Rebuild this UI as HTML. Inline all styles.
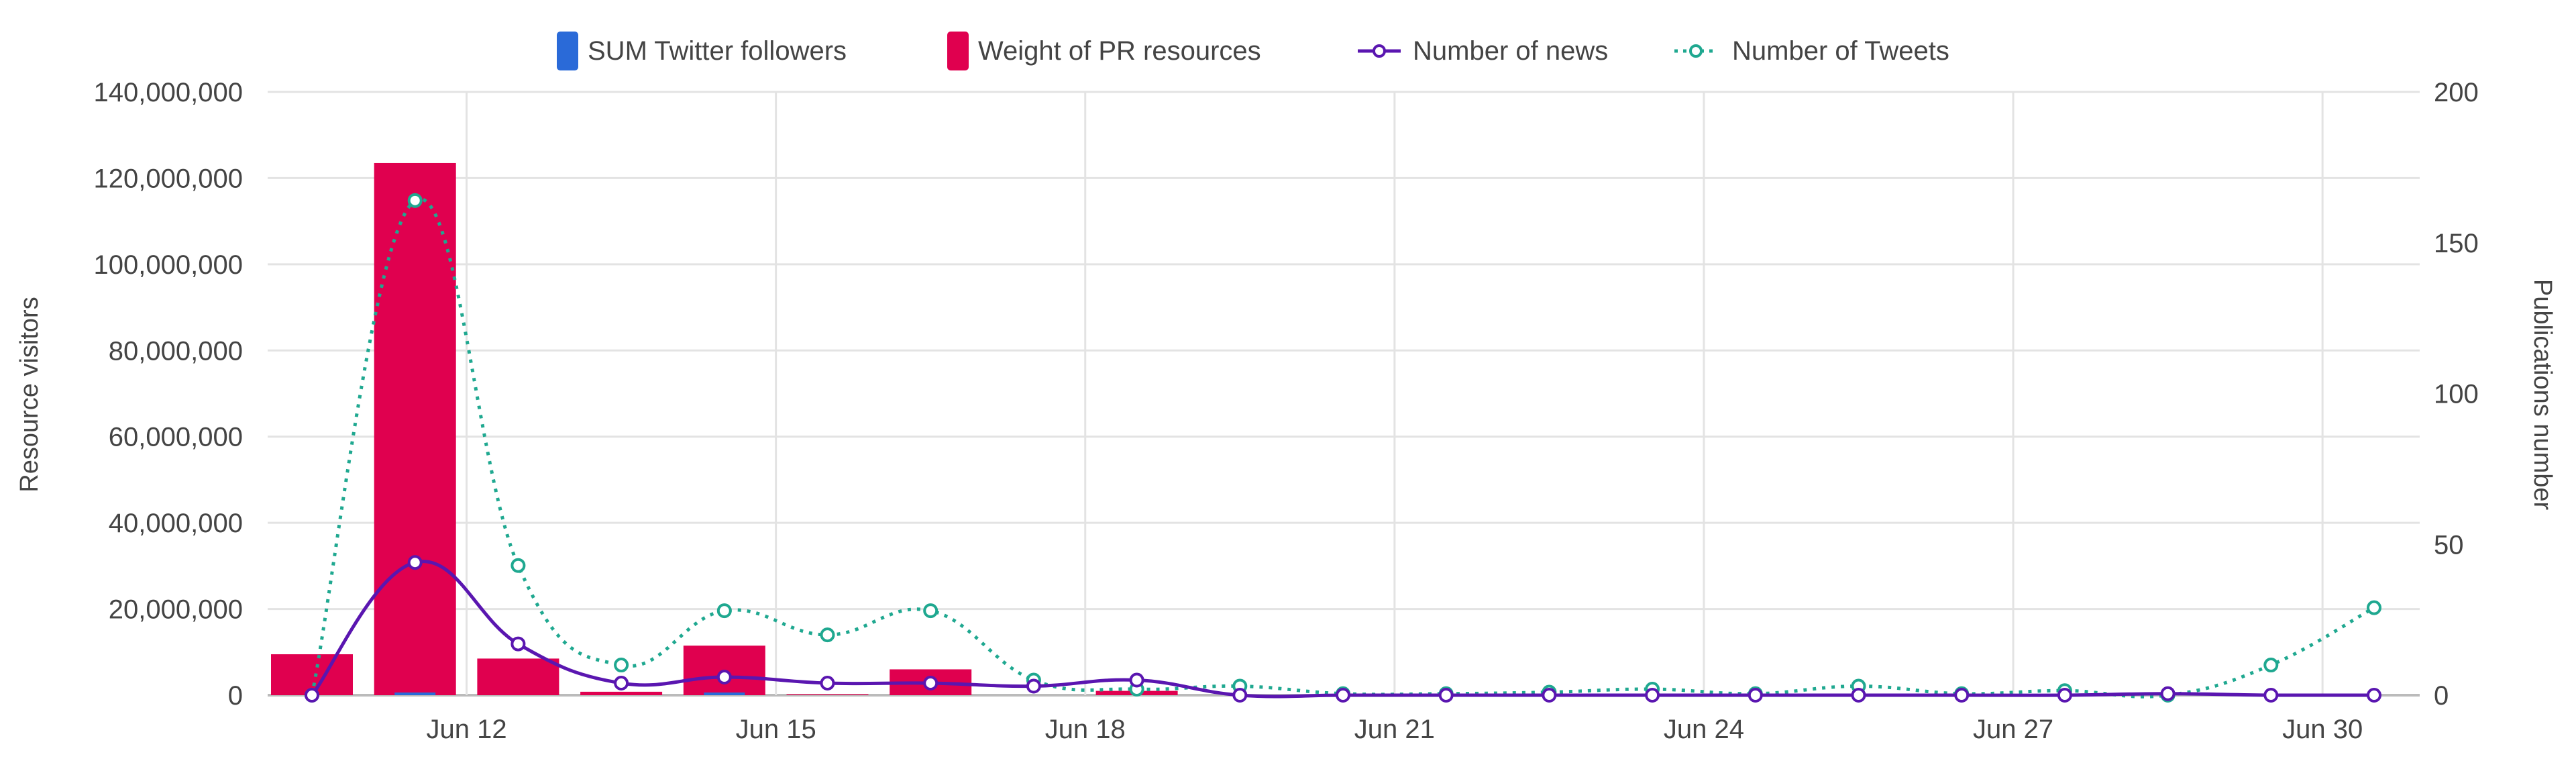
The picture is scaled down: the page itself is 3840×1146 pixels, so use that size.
<!DOCTYPE html>
<html><head><meta charset="utf-8"><style>
html,body{margin:0;padding:0;background:#fff;}
svg{display:block;font-family:"Liberation Sans",sans-serif;}
</style></head><body>
<svg id="chart" width="3840" height="1146" viewBox="0 0 3840 1146" xmlns="http://www.w3.org/2000/svg">
<g id="grid"></g>
<g id="bars"></g>
<g id="lines"></g>
<g id="axes"></g>
<text x="0" y="0" transform="translate(56,588) rotate(-90)" text-anchor="middle" font-size="38" fill="#444">Resource visitors</text>
<text x="0" y="0" transform="translate(3778,588) rotate(90)" text-anchor="middle" font-size="38" fill="#444">Publications number</text>
<g font-size="40" fill="#444">
  <g>
    <rect x="830" y="47" width="32" height="58" rx="5" fill="#2a6ad8"/>
    <text x="876" y="89">SUM Twitter followers</text>
  </g>
  <g>
    <rect x="1412" y="47" width="32" height="58" rx="5" fill="#e0004f"/>
    <text x="1458" y="89">Weight of PR resources</text>
  </g>
  <g>
    <line x1="2024" y1="76" x2="2088" y2="76" stroke="#5a16b0" stroke-width="5"/>
    <circle cx="2056" cy="76" r="8" fill="#fff" stroke="#5a16b0" stroke-width="4"/>
    <text x="2106" y="89">Number of news</text>
  </g>
  <g>
    <line x1="2496" y1="76" x2="2560" y2="76" stroke="#1fa890" stroke-width="5" stroke-dasharray="5,8"/>
    <circle cx="2528" cy="76" r="8" fill="#fff" stroke="#1fa890" stroke-width="4"/>
    <text x="2582" y="89">Number of Tweets</text>
  </g>
</g>
</svg>
<script>
const categories = ["Jun 10","Jun 11","Jun 12","Jun 13","Jun 14","Jun 15","Jun 16","Jun 17","Jun 18","Jun 19","Jun 20","Jun 21","Jun 22","Jun 23","Jun 24","Jun 25","Jun 26","Jun 27","Jun 28","Jun 29","Jun 30"];
const prWeight = [9500000,123500000,8500000,800000,11500000,200000,6000000,0,1000000,0,0,0,0,0,0,0,0,0,0,0,0];
const twitterFollowers = [0,500000,0,0,300000,0,0,0,0,0,0,0,0,0,0,0,0,0,0,0,0];
const tweets = [0,164,43,10,28,20,28,5,2,3,0.5,0.5,1,2,0.5,3,0.5,1.5,0,10,29];
const news = [0,44,17,4,6,4,4,3,5,0,0,0,0,0,0,0,0,0,0.5,0,0];
const leftTicks = [0,20000000,40000000,60000000,80000000,100000000,120000000,140000000];
const rightTicks = [0,50,100,150,200];
const xTickLabels = ["Jun 12","Jun 15","Jun 18","Jun 21","Jun 24","Jun 27","Jun 30"];

const NS="http://www.w3.org/2000/svg";
const L=399,R=3607,B=1036,T=137;
const c0=465,step=(3539-465)/20;
function xPos(i){return c0+i*step;}
function yL(v){return B-(v/140000000)*(B-T);}
function yR(v){return B-(v/200)*(B-T);}
function mk(tag,attrs,parent){const e=document.createElementNS(NS,tag);for(const k in attrs)e.setAttribute(k,attrs[k]);parent.appendChild(e);return e;}
const grid=document.getElementById('grid'),axes=document.getElementById('axes'),bars=document.getElementById('bars'),lines=document.getElementById('lines');
fmt=v=>v.toLocaleString('en-US');
leftTicks.forEach(v=>{
  const y=yL(v);
  const g=mk('line',{x1:L,x2:R,y1:y,y2:y,stroke:v===0?'#bbb':'#e3e3e3','stroke-width':v===0?4:3},grid);
  
  
  const t=mk('text',{x:362,y:y+14,'text-anchor':'end','font-size':40,fill:'#444'},axes);
  t.textContent=fmt(v);
  
  
});
rightTicks.forEach(v=>{
  const t=mk('text',{x:3628,y:yR(v)+14,'font-size':40,fill:'#444'},axes);
  t.textContent=String(v);
  
  
});
xTickLabels.forEach(lab=>{
  const i=categories.indexOf(lab);
  const x=xPos(i)-step/2;
  const g=mk('line',{x1:x,x2:x,y1:T,y2:B,stroke:'#e3e3e3','stroke-width':3},grid);
  
  
  const t=mk('text',{x:x,y:1100,'text-anchor':'middle','font-size':40,fill:'#444'},axes);
  t.textContent=lab;
  
  
});
const bw=122;
categories.forEach((c,i)=>{
  if(prWeight[i]>0){
    const r=mk('rect',{x:xPos(i)-bw/2,y:yL(prWeight[i]),width:bw,height:B-yL(prWeight[i]),fill:'#e0004f'},bars);
    
    
  }
  if(twitterFollowers[i]>0){
    const h=Math.max(4,B-yL(twitterFollowers[i]));
    const r=mk('rect',{x:xPos(i)-bw/4,y:B-h,width:bw/2,height:h,fill:'#2a6ad8'},bars);
    
    
  }
});
function smooth(pts){
  let d=`M${pts[0][0]},${pts[0][1]}`;
  for(let i=0;i<pts.length-1;i++){
    const p0=pts[i-1]||pts[i],p1=pts[i],p2=pts[i+1],p3=pts[i+2]||p2;
    const k=0.2;
    d+=` C${p1[0]+(p2[0]-p0[0])*k},${p1[1]+(p2[1]-p0[1])*k} ${p2[0]-(p3[0]-p1[0])*k},${p2[1]-(p3[1]-p1[1])*k} ${p2[0]},${p2[1]}`;
  }
  return d;
}
function series(vals,color,dash,name){
  const pts=vals.map((v,i)=>[xPos(i),yR(v)]);
  const p=mk('path',{d:smooth(pts),fill:'none',stroke:color,'stroke-width':5},lines);
  if(dash)p.setAttribute('stroke-dasharray',dash);
  
  
  pts.forEach(q=>{
    const c=mk('circle',{cx:q[0],cy:q[1],r:9,fill:'#fff',stroke:color,'stroke-width':4},lines);
    
    
  });
}
series(tweets,'#1fa890','5,9','tweets');
series(news,'#5a16b0',null,'news');
</script>
</body></html>
